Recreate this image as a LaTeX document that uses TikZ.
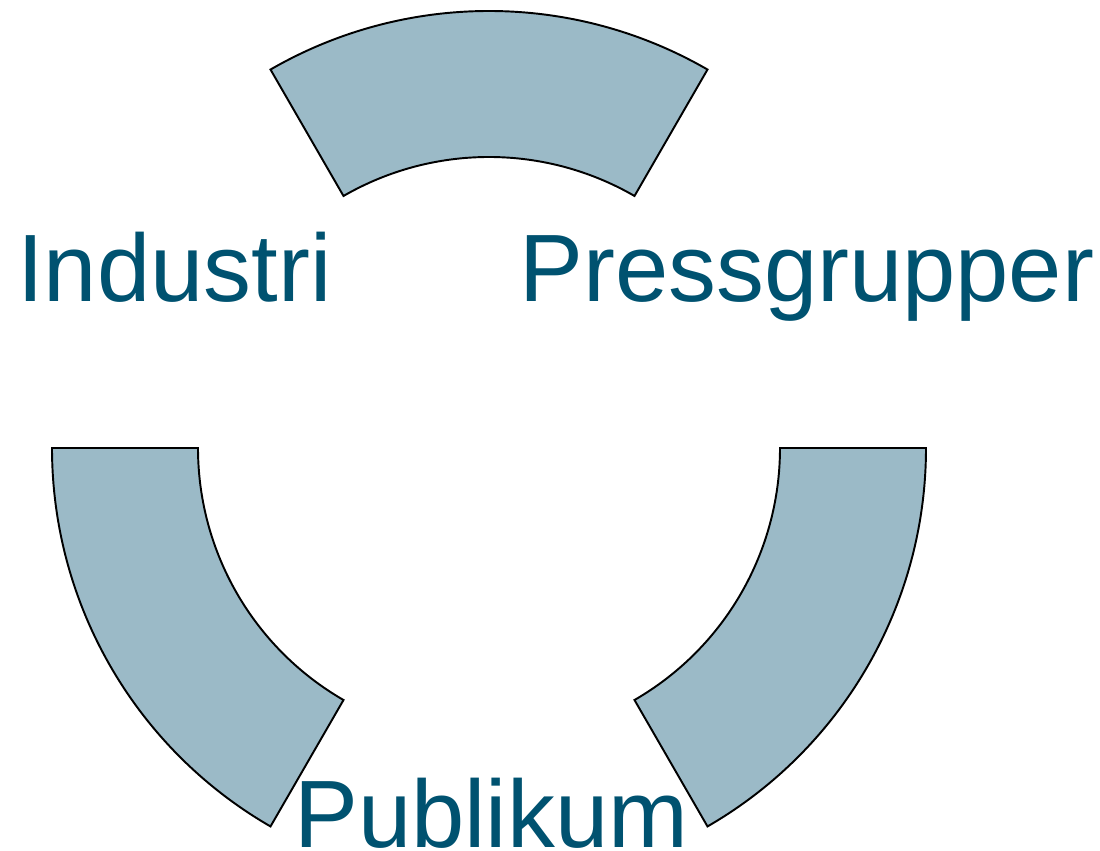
\documentclass[tikz,border=0pt]{standalone}
\usepackage{fontspec}
\setmainfont{Liberation Sans}
\definecolor{segfill}{HTML}{9BBAC7}
\definecolor{labtext}{HTML}{005270}

\begin{document}
\begin{tikzpicture}[x=0.02cm,y=0.02cm,
				segment/.style = {draw=black, line width=1.1pt, fill=segfill, line join=miter},
				label text/.style = {text=labtext, inner sep=0pt, anchor=base west,
					font=\fontsize{54.5}{60}\selectfont}]
				
				\useasboundingbox (0,0) rectangle (1100,851);
				\coordinate (c) at (489,403);
				
				\foreach \a in {60,180,300}
				\draw[segment] ([shift={(\a:437)}]c) arc[start angle=\a, end angle=\a+60, radius=437]
				-- ([shift={(\a+60:291)}]c) arc[start angle=\a+60, end angle=\a, radius=291] -- cycle;
				
				\node[label text] (ind) at (17,549) {Industri};
				\node[label text] (pre) at (519,549) {Pressgrupper};
				\node[label text] (pub) at (294,3) {Publikum};
				
				\end{tikzpicture}
\end{document}
